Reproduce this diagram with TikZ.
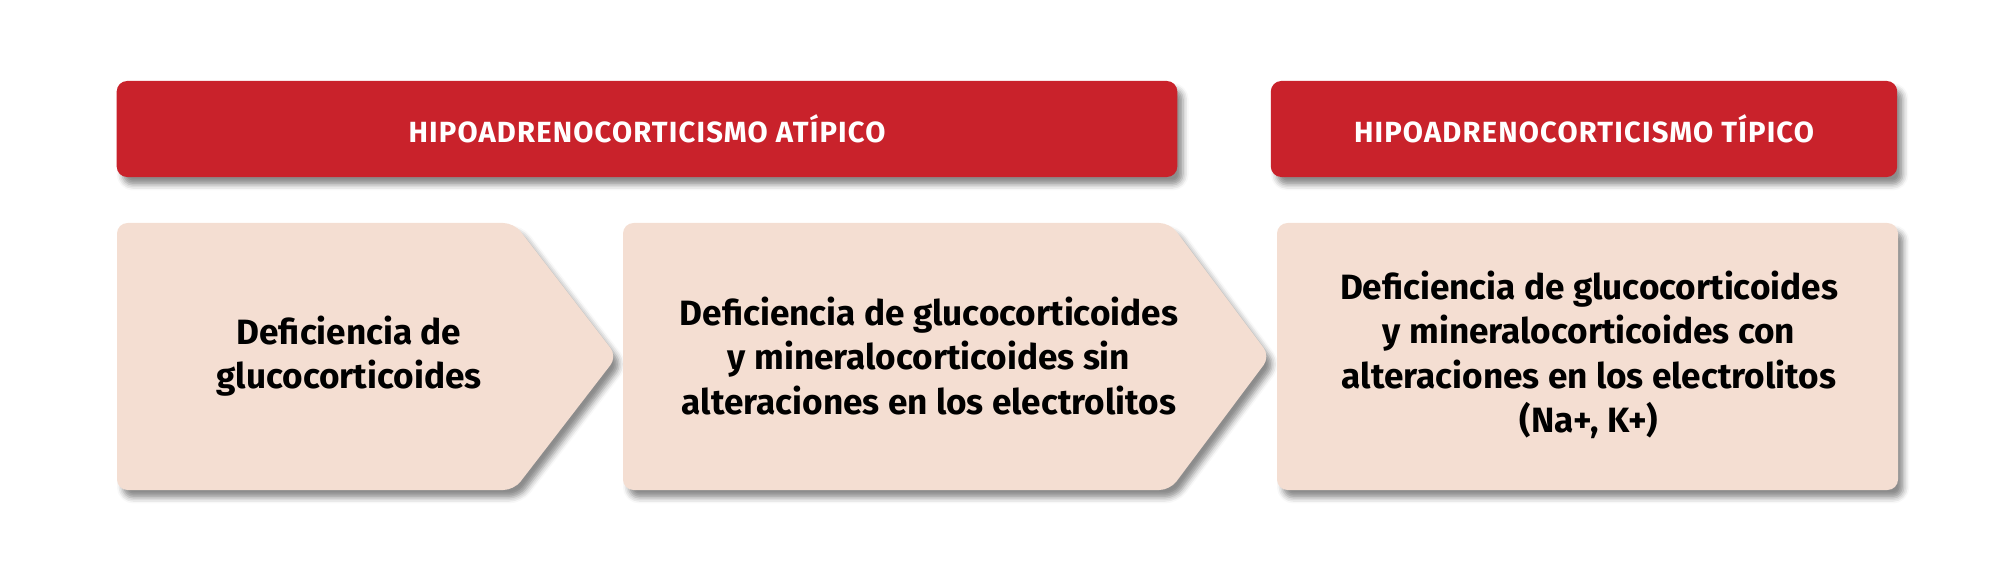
\documentclass[tikz,border=0pt]{standalone}
\usepackage{fontspec}
\setmainfont{Fira Sans}
\usepackage{xcolor}
\usepackage{tikz}
\usetikzlibrary{positioning, shadows.blur, calc}
\definecolor{hiporojo}{HTML}{C9222B}
\definecolor{hipocrema}{HTML}{F4DED2}

\begin{document}
\begin{tikzpicture}[x=0.01cm, y=-0.01cm]
				\tikzset{sombra/.style={blur shadow={shadow xshift=1.6pt, shadow yshift=-2.2pt, shadow blur radius=1.6pt, shadow opacity=45}}}
				\tikzset{titulo/.style={fill=hiporojo, rounded corners=3pt, sombra, text=white, font=\bfseries\fontsize{8.3}{9}\selectfont\addfontfeatures{LetterSpace=4}, minimum height=0.96cm}}
				\tikzset{caja/.style={fill=hipocrema, rounded corners=3pt, sombra}}
				\tikzset{texto/.style={align=center, font=\bfseries\fontsize{10}{12.6}\selectfont, text=black}}

				\useasboundingbox (0,0) rectangle (2000,573);

				\node (atipico) [titulo, minimum width=10.6cm] at (647,129) {HIPOADRENOCORTICISMO ATÍPICO};
				\node (tipico) [titulo, minimum width=6.26cm] at (1584,129) {HIPOADRENOCORTICISMO TÍPICO};

				% flechas
				\path[caja] (117,223) -- (514,223) -- (617,356.5) -- (514,490) -- (117,490) -- cycle;
				\path[caja] (623,223) -- (1170,223) -- (1270,356.5) -- (1170,490) -- (623,490) -- cycle;
				\path[caja] (1277,223) rectangle (1898,490);

				\node (gluco) [texto] at (349,356) {Deficiencia de\\glucocorticoides};
				\node (sinelec) [texto] at (929,356) {Deficiencia de glucocorticoides\\ y mineralocorticoides sin\\alteraciones en los electrolitos};
				\node (conelec) [texto] at (1589,355) {Deficiencia de glucocorticoides\\y mineralocorticoides con\\alteraciones en los electrolitos\\(Na+, K+)};
			\end{tikzpicture}
\end{document}
